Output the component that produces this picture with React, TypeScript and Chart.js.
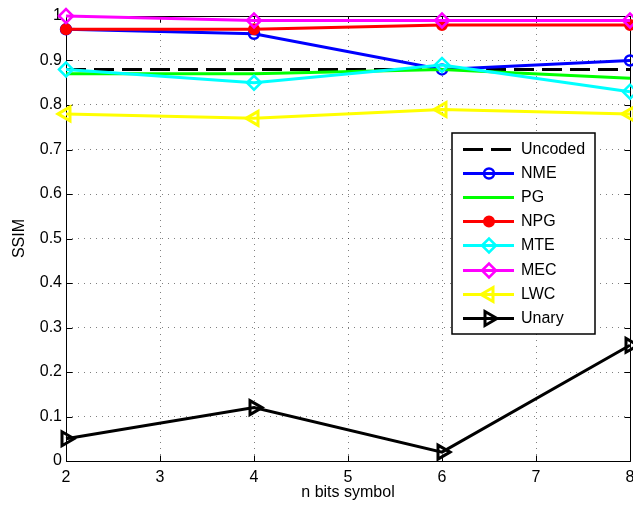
import React, { useEffect, useRef } from "react";
import { Chart, registerables } from "chart.js";
import { drawPoint } from "chart.js/helpers";

Chart.register(...registerables);

const xValues = [2, 4, 6, 8];
const uncoded = [0.88, 0.88, 0.88, 0.88];
const nme = [0.97, 0.96, 0.88, 0.9];
const pg = [0.87, 0.87, 0.88, 0.86];
const npg = [0.97, 0.97, 0.98, 0.98];
const mte = [0.88, 0.85, 0.89, 0.83];
const mec = [1.0, 0.99, 0.99, 0.99];
const lwc = [0.78, 0.77, 0.79, 0.78];
const unary = [0.05, 0.12, 0.02, 0.26];

const xTicks = [2, 3, 4, 5, 6, 7, 8];
const yTicks = [0, 0.1, 0.2, 0.3, 0.4, 0.5, 0.6, 0.7, 0.8, 0.9, 1];
const xTitle = "n bits symbol";
const yTitle = "SSIM";

const FONT = "'Liberation Sans', Arial, Helvetica, sans-serif";

type Series = {
  label: string;
  values: number[];
  color: string;
  pointStyle: any;
  rotation: number;
  radius: number;
  fill: boolean;
  dash: number[];
  pbw: number;
};

const series: Series[] = [
  { label: "Uncoded", values: uncoded, color: "#000000", pointStyle: false, rotation: 0, radius: 0, fill: false, dash: [20, 8], pbw: 0 },
  { label: "NME", values: nme, color: "#0000ff", pointStyle: "circle", rotation: 0, radius: 5, fill: false, dash: [], pbw: 2.5 },
  { label: "PG", values: pg, color: "#00ff00", pointStyle: false, rotation: 0, radius: 0, fill: false, dash: [], pbw: 0 },
  { label: "NPG", values: npg, color: "#ff0000", pointStyle: "circle", rotation: 0, radius: 5, fill: true, dash: [], pbw: 2 },
  { label: "MTE", values: mte, color: "#00ffff", pointStyle: "rectRot", rotation: 0, radius: 7, fill: false, dash: [], pbw: 2.5 },
  { label: "MEC", values: mec, color: "#ff00ff", pointStyle: "rectRot", rotation: 0, radius: 7, fill: false, dash: [], pbw: 2.5 },
  { label: "LWC", values: lwc, color: "#ffff00", pointStyle: "triangle", rotation: -90, radius: 8, fill: false, dash: [], pbw: 3 },
  { label: "Unary", values: unary, color: "#000000", pointStyle: "triangle", rotation: 90, radius: 8, fill: false, dash: [], pbw: 3 },
];

const framePlugin = {
  id: "frame",
  beforeDatasetsDraw(chart: any) {
    const { ctx, chartArea } = chart;
    const { left, right, top, bottom } = chartArea;
    const xs = chart.scales.x;
    const ys = chart.scales.y;
    ctx.save();
    ctx.strokeStyle = "#000";
    ctx.lineWidth = 1;
    ctx.setLineDash([]);
    ctx.beginPath();
    ctx.rect(left + 0.5, top + 0.5, right - left, bottom - top);
    ctx.stroke();
    const tl = 6;
    ctx.beginPath();
    xTicks.forEach((v) => {
      const px = Math.round(xs.getPixelForValue(v)) + 0.5;
      ctx.moveTo(px, bottom + 0.5);
      ctx.lineTo(px, bottom + 0.5 - tl);
      ctx.moveTo(px, top + 0.5);
      ctx.lineTo(px, top + 0.5 + tl);
    });
    yTicks.forEach((v) => {
      const py = Math.round(ys.getPixelForValue(v)) + 0.5;
      ctx.moveTo(left + 0.5, py);
      ctx.lineTo(left + 0.5 + tl, py);
      ctx.moveTo(right + 0.5, py);
      ctx.lineTo(right + 0.5 - tl, py);
    });
    ctx.stroke();
    // x tick labels
    ctx.fillStyle = "#000";
    ctx.font = `16px ${FONT}`;
    ctx.textAlign = "center";
    ctx.textBaseline = "alphabetic";
    xTicks.forEach((v) => {
      const px = xs.getPixelForValue(v);
      ctx.fillText(String(v), px, bottom + 21);
    });
    ctx.restore();
  },
};

const legendPlugin = {
  id: "customLegend",
  afterDraw(chart: any) {
    const { ctx } = chart;
    const bx = 452;
    const by = 133;
    const bw = 143;
    const bh = 201;
    ctx.save();
    ctx.fillStyle = "#fff";
    ctx.fillRect(bx, by, bw, bh);
    ctx.strokeStyle = "#000";
    ctx.lineWidth = 1.5;
    ctx.setLineDash([]);
    ctx.strokeRect(bx, by, bw, bh);
    const rowY0 = 149;
    const rowStep = 24.1;
    const x1 = 463;
    const x2 = 514;
    const xm = 489;
    series.forEach((s, i) => {
      const y = Math.round(rowY0 + i * rowStep) + 0.5;
      ctx.strokeStyle = s.color;
      ctx.lineWidth = 3;
      ctx.setLineDash(s.dash);
      ctx.beginPath();
      ctx.moveTo(x1, y);
      ctx.lineTo(x2, y);
      ctx.stroke();
      ctx.setLineDash([]);
      if (s.pointStyle) {
        ctx.strokeStyle = s.color;
        ctx.fillStyle = s.fill ? s.color : "rgba(0,0,0,0)";
        ctx.lineWidth = s.pbw;
        drawPoint(ctx, { pointStyle: s.pointStyle, rotation: s.rotation, radius: s.radius, borderWidth: s.pbw } as any, xm, y);
      }
      ctx.fillStyle = "#000";
      ctx.font = `16px ${FONT}`;
      ctx.textBaseline = "middle";
      ctx.textAlign = "left";
      ctx.fillText(s.label, 521, y);
    });
    ctx.restore();
  },
};

export default function App() {
  const ref = useRef<HTMLCanvasElement | null>(null);
  useEffect(() => {
    if (!ref.current) return;
    const datasets = series.map((s, i) => ({
      label: s.label,
      data: xValues.map((x, j) => ({ x, y: s.values[j] })),
      borderColor: s.color,
      backgroundColor: s.fill ? s.color : "rgba(0,0,0,0)",
      borderWidth: 3,
      borderDash: s.dash,
      pointStyle: s.pointStyle,
      pointRadius: s.radius,
      pointRotation: s.rotation,
      pointBorderWidth: s.pbw,
      pointBorderColor: s.color,
      pointBackgroundColor: s.fill ? s.color : "rgba(0,0,0,0)",
      tension: 0,
      fill: false,
      clip: false as any,
      order: series.length - 1 - i,
    }));
    const gridColor = "rgba(0,0,0,0.5)";
    const chart = new Chart(ref.current, {
      type: "line",
      data: { datasets },
      plugins: [framePlugin, legendPlugin],
      options: {
        animation: false,
        responsive: false,
        devicePixelRatio: 1,
        layout: { autoPadding: false, padding: { top: 16, right: 3, left: 0, bottom: 0 } },
        plugins: { legend: { display: false }, tooltip: { enabled: false } },
        scales: {
          x: {
            type: "linear",
            min: 2,
            max: 8,
            afterBuildTicks: (s: any) => {
              s.ticks = xTicks.map((v) => ({ value: v }));
            },
            ticks: { display: false },
            grid: { color: gridColor, lineWidth: 1, drawTicks: false },
            border: { display: false, dash: [1, 5] },
            title: {
              display: true,
              text: xTitle,
              color: "#000",
              font: { family: FONT, size: 16 },
              padding: { top: 0, bottom: 8 },
            },
            afterFit: (s: any) => {
              s.height = 49;
              s.paddingLeft = 0;
              s.paddingRight = 0;
            },
          },
          y: {
            type: "linear",
            min: 0,
            max: 1,
            afterBuildTicks: (s: any) => {
              s.ticks = yTicks.map((v) => ({ value: v }));
            },
            ticks: {
              color: "#000",
              font: { family: FONT, size: 16 },
              padding: 4,
              autoSkip: false,
              callback: (v: any) => String(Number(Number(v).toFixed(1))),
            },
            grid: { color: gridColor, lineWidth: 1, drawTicks: false },
            border: { display: false, dash: [1, 5] },
            title: {
              display: true,
              text: yTitle,
              color: "#000",
              font: { family: FONT, size: 16 },
              padding: { top: 10, bottom: 0 },
            },
            afterFit: (s: any) => {
              s.width = 66;
              s.paddingTop = 0;
              s.paddingBottom = 0;
            },
          },
        },
      } as any,
    });
    return () => chart.destroy();
  }, []);
  return (
    <div style={{ position: "absolute", left: 0, top: 0, width: 633, height: 510, background: "#fff" }}>
      <canvas ref={ref} width={633} height={510} style={{ display: "block" }} />
    </div>
  );
}
